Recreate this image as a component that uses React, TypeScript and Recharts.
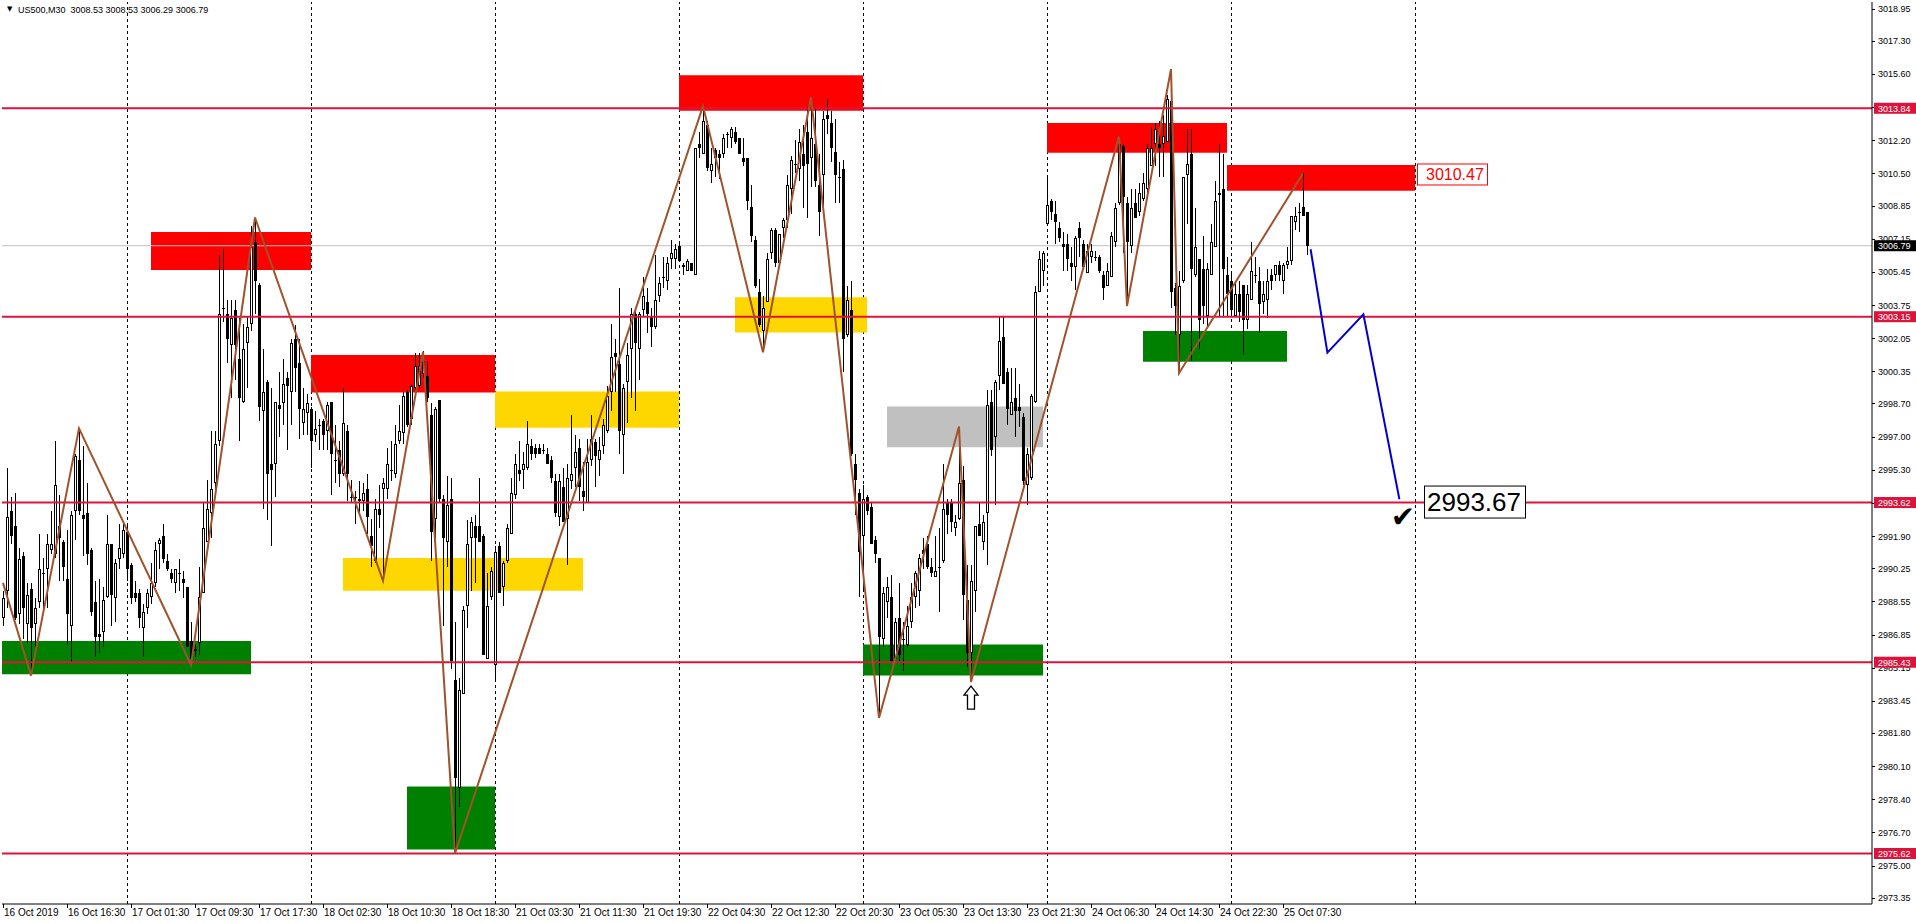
import { ComposedChart, Bar, Line, XAxis, YAxis, ReferenceLine, ReferenceArea, ReferenceDot } from 'recharts';

type Candle = [number, number, number, number]; // open, high, low, close

const oct16: Candle[] = [
  [2987.7, 2989.1, 2987.3, 2988.7], [2989.1, 2995.4, 2988.2, 2992.9], [2993.2, 2993.9, 2991.5, 2991.9],
  [2992.4, 2994.1, 2987.6, 2987.7], [2987.9, 2991.3, 2987.4, 2990.7], [2990.9, 2991.1, 2986.6, 2988.2],
  [2987.4, 2989.5, 2986.4, 2988.9], [2989.2, 2989.5, 2984.8, 2987.2], [2987.4, 2988.7, 2986.2, 2988.2],
  [2988.5, 2992.0, 2988.2, 2990.2], [2990.0, 2990.8, 2988.2, 2990.0], [2990.2, 2992.0, 2988.2, 2991.5],
  [2991.2, 2993.2, 2991.0, 2991.5], [2991.0, 2996.8, 2990.8, 2994.5], [2992.4, 2994.0, 2989.6, 2991.8],
  [2991.6, 2991.7, 2989.6, 2990.3], [2989.7, 2992.2, 2986.3, 2987.9], [2987.3, 2993.2, 2985.4, 2993.0],
  [2993.2, 2996.1, 2991.7, 2996.0], [2995.8, 2997.4, 2993.0, 2993.2], [2993.0, 2996.5, 2990.9, 2992.8],
  [2993.1, 2994.6, 2990.4, 2991.0], [2991.2, 2991.3, 2987.8, 2988.0], [2988.5, 2989.6, 2985.7, 2986.7],
  [2986.9, 2989.7, 2985.9, 2986.7], [2987.0, 2989.3, 2986.2, 2988.6], [2988.8, 2993.0, 2988.7, 2991.5],
  [2991.5, 2991.5, 2987.3, 2988.9], [2988.7, 2990.7, 2987.5, 2990.5], [2990.7, 2992.5, 2990.2, 2991.3],
  [2991.0, 2992.6, 2990.8, 2992.2],
];

const oct17: Candle[] = [
  [2992.1, 2992.4, 2989.6, 2990.2], [2990.4, 2990.5, 2988.4, 2988.7], [2989.0, 2989.6, 2988.5, 2988.7],
  [2989.0, 2989.2, 2987.2, 2987.7], [2987.2, 2988.4, 2985.7, 2988.0], [2988.2, 2989.2, 2987.9, 2989.0],
  [2988.8, 2990.5, 2988.4, 2989.5], [2989.5, 2991.6, 2989.3, 2991.2], [2991.5, 2991.8, 2990.2, 2991.7],
  [2991.9, 2992.5, 2990.5, 2990.7], [2990.6, 2991.0, 2990.1, 2990.2], [2990.0, 2990.2, 2989.5, 2989.7],
  [2989.5, 2990.2, 2989.0, 2990.2], [2990.0, 2990.7, 2989.1, 2990.0], [2989.7, 2990.1, 2988.7, 2989.5],
  [2989.3, 2989.3, 2986.2, 2986.2], [2986.5, 2987.5, 2985.3, 2985.6], [2986.0, 2986.3, 2985.7, 2986.1],
  [2986.4, 2990.3, 2985.8, 2988.8], [2989.0, 2993.6, 2989.0, 2992.3], [2991.6, 2994.8, 2991.6, 2993.3],
  [2993.1, 2997.3, 2991.8, 2994.3], [2994.6, 2997.3, 2994.1, 2996.6], [2996.8, 3006.3, 2996.5, 3003.3],
  [3003.6, 3006.6, 3002.9, 3003.6], [3003.3, 3004.0, 3000.8, 3002.0], [3001.7, 3004.0, 2999.0, 3003.1],
  [3003.5, 3004.0, 2999.9, 3001.7], [3001.0, 3003.1, 2996.8, 2999.0], [2998.8, 3002.8, 2998.7, 3001.5],
  [3001.8, 3003.2, 2999.5, 3002.6], [3002.8, 3007.8, 3002.4, 3006.7], [3007.0, 3008.2, 3003.3, 3005.0],
  [3004.8, 3004.9, 2997.8, 2998.5], [2998.3, 3001.5, 2993.3, 2999.3], [2999.8, 2999.9, 2992.7, 2995.1],
  [2995.6, 2999.5, 2991.4, 2995.3], [2995.6, 2998.8, 2993.9, 2998.8], [2998.6, 3000.3, 2997.0, 2998.4],
  [2998.7, 3001.0, 2997.6, 2999.7], [3000.0, 3000.3, 2996.3, 2999.6], [2999.3, 3002.0, 2997.6, 3001.8],
  [3002.0, 3002.7, 2999.3, 3000.5], [3000.8, 3002.0, 2996.9, 2998.4], [2997.7, 2999.5, 2997.1, 2998.4],
  [2998.2, 2999.2, 2997.1, 2998.7],
];

const oct18: Candle[] = [
  [2998.4, 2998.5, 2995.4, 2996.8], [2997.1, 2998.3, 2996.7, 2997.4], [2997.6, 2997.9, 2996.3, 2997.6],
  [2997.8, 2997.9, 2996.3, 2997.1], [2997.3, 2998.8, 2996.3, 2998.6], [2998.8, 2998.8, 2994.0, 2996.1],
  [2995.8, 2997.6, 2994.6, 2995.8], [2996.3, 2996.8, 2994.4, 2995.1], [2995.1, 2999.5, 2995.0, 2997.7],
  [2997.3, 2997.6, 2993.7, 2995.1], [2993.9, 2994.8, 2993.6, 2993.9], [2993.9, 2994.2, 2992.5, 2993.9],
  [2993.8, 2994.7, 2993.0, 2993.7], [2993.7, 2994.6, 2993.2, 2994.1], [2994.3, 2995.1, 2992.0, 2992.9],
  [2991.9, 2992.8, 2990.3, 2991.4], [2990.6, 2993.8, 2990.5, 2993.3], [2993.3, 2994.5, 2992.3, 2993.0],
  [2994.3, 2994.9, 2989.6, 2994.6], [2994.3, 2996.4, 2993.8, 2995.6], [2995.3, 2996.8, 2994.7, 2995.3],
  [2995.1, 2997.6, 2994.9, 2996.6], [2996.8, 2998.6, 2996.6, 2997.3], [2997.2, 2999.3, 2996.6, 2999.1],
  [2999.3, 2999.4, 2997.5, 2997.6], [2997.9, 2999.7, 2997.6, 2999.6], [2999.5, 3001.3, 2999.4, 3000.6],
  [2999.6, 3001.3, 2999.5, 3000.6], [3000.2, 3001.4, 3000.0, 3000.9], [3000.1, 3000.9, 2998.8, 2999.0],
  [2998.1, 2998.7, 2990.6, 2992.1], [2992.8, 2998.5, 2991.7, 2998.4], [2998.9, 2998.9, 2993.6, 2993.8],
  [2993.8, 2994.0, 2987.3, 2991.8], [2991.6, 2995.0, 2990.3, 2993.5], [2993.8, 2994.9, 2985.1, 2985.5],
  [2984.5, 2987.5, 2975.6, 2979.5], [2979.0, 2984.6, 2978.0, 2984.0], [2983.8, 2988.3, 2983.8, 2988.1],
  [2988.3, 2992.7, 2987.2, 2991.5], [2991.8, 2992.9, 2989.1, 2992.6], [2992.4, 2993.0, 2989.5, 2991.8],
  [2992.4, 2994.9, 2991.6, 2991.6], [2991.9, 2992.0, 2985.8, 2985.8], [2985.6, 2990.0, 2985.6, 2988.3],
  [2988.8, 2990.3, 2988.6, 2990.1],
];

const oct21: Candle[] = [
  [2985.3, 2991.4, 2984.4, 2991.1], [2991.4, 2991.6, 2989.0, 2989.0], [2989.3, 2990.6, 2988.3, 2990.5],
  [2990.6, 2992.5, 2990.5, 2992.3], [2992.0, 2994.9, 2992.0, 2994.1], [2994.0, 2996.1, 2993.8, 2995.6],
  [2995.3, 2996.8, 2994.7, 2995.1], [2995.3, 2996.2, 2994.3, 2995.6], [2995.4, 2997.8, 2995.3, 2996.6],
  [2996.5, 2996.9, 2995.8, 2996.1], [2996.4, 2996.6, 2995.9, 2996.1], [2996.4, 2996.6, 2996.1, 2996.1],
  [2996.3, 2996.6, 2996.1, 2996.3], [2996.1, 2996.4, 2995.6, 2995.6], [2995.8, 2996.0, 2994.6, 2994.9],
  [2994.7, 2995.1, 2992.9, 2993.1], [2992.9, 2995.1, 2992.4, 2994.7], [2994.4, 2995.4, 2992.6, 2992.6],
  [2992.8, 2995.6, 2990.4, 2994.9], [2994.7, 2998.1, 2994.3, 2995.1], [2995.4, 2997.1, 2994.4, 2996.2],
  [2996.4, 2996.9, 2993.7, 2994.4], [2994.2, 2995.7, 2993.2, 2993.9], [2993.6, 2996.9, 2993.6, 2995.7],
  [2995.8, 2998.1, 2995.5, 2996.9], [2996.7, 2996.9, 2994.4, 2996.0], [2995.8, 2997.0, 2995.0, 2996.3],
  [2996.5, 2997.9, 2996.1, 2997.6], [2997.3, 2999.6, 2997.2, 2999.1], [2999.3, 3002.8, 2998.3, 3001.1],
  [3001.3, 3002.0, 2999.3, 3001.1], [3000.7, 3004.6, 2996.1, 2997.3], [2997.1, 2999.7, 2995.1, 2999.5],
  [2999.8, 3001.8, 2997.7, 3001.2], [3001.5, 3003.6, 2999.0, 3003.3], [3003.3, 3003.6, 2998.3, 3001.8],
  [3001.5, 3003.4, 2999.9, 3003.3], [3003.5, 3005.2, 3003.2, 3004.2], [3003.9, 3004.6, 3002.3, 3003.3],
  [3003.2, 3003.6, 3001.6, 3002.6], [3002.6, 3006.3, 3002.5, 3004.0], [3004.2, 3005.2, 3003.9, 3004.9],
  [3005.2, 3006.2, 3004.6, 3005.2], [3005.0, 3006.2, 3004.5, 3005.9], [3006.1, 3007.1, 3005.6, 3006.4],
  [3006.1, 3006.9, 3005.6, 3006.6],
];

const oct22: Candle[] = [
  [3006.8, 3007.0, 3006.0, 3006.0], [3005.8, 3005.9, 3005.3, 3005.7], [3005.5, 3006.1, 3005.5, 3006.0],
  [3005.9, 3005.9, 3005.5, 3005.5], [3005.3, 3011.8, 3005.3, 3011.8], [3012.0, 3012.6, 3011.3, 3011.8],
  [3011.5, 3013.95, 3011.5, 3013.2], [3013.0, 3013.2, 3010.6, 3010.8], [3010.6, 3011.8, 3010.0, 3011.0],
  [3011.7, 3011.8, 3010.3, 3011.3], [3011.5, 3011.7, 3010.2, 3011.3], [3011.5, 3012.5, 3011.3, 3012.3],
  [3012.5, 3012.6, 3011.8, 3012.5], [3012.3, 3012.9, 3011.8, 3012.8], [3012.6, 3012.9, 3012.0, 3012.1],
  [3012.3, 3012.3, 3011.5, 3011.5], [3011.3, 3012.3, 3010.9, 3011.1], [3011.3, 3011.3, 3008.6, 3009.1],
  [3008.8, 3009.9, 3007.0, 3007.3], [3007.1, 3007.3, 3004.6, 3004.7], [3004.4, 3005.1, 3002.6, 3002.7],
  [3002.4, 3004.2, 3001.4, 3003.6], [3003.9, 3006.4, 3003.9, 3006.1], [3006.4, 3007.7, 3006.1, 3007.6],
  [3007.6, 3007.7, 3005.7, 3005.9], [3005.9, 3007.4, 3005.7, 3007.4], [3007.7, 3008.2, 3007.2, 3008.1],
  [3008.1, 3010.4, 3007.7, 3009.9], [3009.7, 3011.4, 3008.4, 3011.2], [3011.0, 3012.2, 3010.5, 3011.0],
  [3010.7, 3012.8, 3010.1, 3012.1], [3011.5, 3013.0, 3008.7, 3010.9], [3012.6, 3013.9, 3008.2, 3011.0],
  [3011.3, 3014.42, 3009.8, 3012.3], [3012.0, 3013.8, 3009.8, 3010.1], [3009.9, 3011.5, 3007.3, 3008.5],
  [3010.4, 3013.7, 3008.8, 3013.3], [3013.5, 3014.3, 3012.5, 3013.3], [3013.1, 3013.7, 3011.1, 3011.8],
  [3011.6, 3013.3, 3009.0, 3010.4], [3010.3, 3011.1, 3009.0, 3010.3], [3010.7, 3011.2, 3000.3, 3002.0],
  [3002.2, 3004.7, 3002.1, 3004.0], [3003.5, 3005.0, 2996.0, 2996.1], [2995.6, 2996.1, 2993.0, 2994.8],
  [2994.1, 2994.3, 2988.8, 2991.1],
];

const oct23: Candle[] = [
  [2991.9, 2994.5, 2989.1, 2993.8], [2993.9, 2994.0, 2993.0, 2993.2], [2993.4, 2993.6, 2991.5, 2991.5],
  [2991.7, 2991.9, 2990.5, 2991.0], [2990.8, 2990.8, 2982.6, 2986.7], [2986.6, 2989.3, 2986.2, 2989.0],
  [2988.5, 2989.8, 2987.7, 2989.3], [2988.8, 2989.9, 2985.4, 2985.5], [2985.6, 2987.7, 2985.5, 2987.5],
  [2987.7, 2989.5, 2985.5, 2985.8], [2986.6, 2987.5, 2985.0, 2986.6], [2986.3, 2988.3, 2986.2, 2987.3],
  [2987.5, 2989.5, 2987.2, 2988.8], [2988.8, 2990.1, 2988.2, 2990.0], [2989.1, 2991.0, 2988.3, 2990.8],
  [2991.2, 2991.8, 2990.2, 2991.0], [2991.5, 2991.9, 2990.2, 2990.3], [2990.3, 2990.8, 2989.8, 2990.0],
  [2989.8, 2991.9, 2989.8, 2990.1], [2990.3, 2992.3, 2988.0, 2990.3], [2990.6, 2995.6, 2990.5, 2993.3],
  [2993.6, 2993.8, 2992.0, 2993.0], [2993.6, 2993.8, 2992.1, 2992.6], [2992.3, 2993.0, 2991.9, 2992.6],
  [2992.8, 2997.5, 2992.7, 2994.6], [2994.8, 2995.5, 2987.6, 2988.9], [2988.6, 2990.4, 2985.2, 2985.9],
  [2985.9, 2990.4, 2984.4, 2989.6], [2989.1, 2992.4, 2988.0, 2992.4], [2992.5, 2993.6, 2991.9, 2991.9],
  [2991.6, 2993.0, 2991.2, 2992.6], [2993.1, 2999.4, 2990.4, 2998.6], [2998.8, 2999.4, 2996.0, 2996.3],
  [2997.0, 2999.9, 2993.5, 2999.8], [3000.1, 3003.2, 2999.4, 3001.9], [3002.1, 3003.2, 2999.7, 2999.7],
  [3000.3, 3000.5, 2997.6, 2998.4], [2998.1, 3000.5, 2998.1, 2998.8], [2999.0, 3000.5, 2997.0, 2998.3],
  [2998.5, 2999.7, 2997.5, 2998.3], [2998.0, 2998.2, 2994.5, 2994.7], [2994.5, 2996.4, 2993.5, 2996.1],
  [2994.9, 2999.2, 2994.8, 2999.1], [2998.8, 3004.7, 2998.7, 3004.4], [3004.4, 3006.5, 3004.4, 3006.1],
  [3005.5, 3006.5, 3004.7, 3006.4],
];

const oct24: Candle[] = [
  [3007.9, 3010.4, 3007.9, 3008.9], [3009.1, 3009.2, 3008.1, 3008.5], [3008.4, 3009.1, 3006.9, 3008.0],
  [3007.7, 3008.0, 3007.0, 3007.2], [3006.9, 3007.5, 3005.5, 3006.7], [3006.9, 3007.4, 3005.5, 3006.1],
  [3005.9, 3006.7, 3005.0, 3005.7], [3005.7, 3007.3, 3004.5, 3007.2], [3007.7, 3008.0, 3006.2, 3007.2],
  [3006.9, 3007.1, 3005.7, 3005.7], [3005.4, 3006.9, 3005.4, 3006.5], [3006.2, 3006.9, 3005.9, 3006.5],
  [3006.2, 3006.5, 3006.0, 3006.2], [3006.2, 3006.3, 3005.4, 3005.5], [3005.3, 3005.5, 3004.0, 3004.6],
  [3004.7, 3005.9, 3004.7, 3005.5], [3005.2, 3007.5, 3005.2, 3007.3], [3007.0, 3009.0, 3006.7, 3008.7],
  [3009.0, 3012.4, 3008.9, 3012.0], [3011.9, 3012.0, 3006.4, 3009.3], [3009.0, 3009.3, 3003.7, 3007.0],
  [3006.8, 3009.7, 3006.4, 3008.7], [3009.0, 3009.7, 3008.2, 3008.2], [3008.5, 3010.0, 3008.3, 3009.5],
  [3009.2, 3010.5, 3009.1, 3010.0], [3009.7, 3012.0, 3009.3, 3011.8], [3010.9, 3012.9, 3010.9, 3011.8],
  [3012.0, 3013.1, 3010.9, 3012.8], [3012.0, 3013.2, 3010.3, 3011.8], [3012.0, 3013.5, 3010.3, 3012.4],
  [3012.1, 3014.5, 3012.1, 3014.3], [3014.2, 3015.84, 3003.6, 3004.4], [3004.6, 3004.9, 3002.2, 3003.7],
  [3002.2, 3005.5, 3000.25, 3004.7], [3005.0, 3010.3, 3004.9, 3010.3], [3010.4, 3012.8, 3007.9, 3011.0],
  [3011.5, 3012.8, 3000.9, 3005.6], [3005.3, 3008.7, 3005.2, 3006.7], [3006.1, 3006.1, 3001.5, 3003.0],
  [3005.6, 3007.3, 3002.8, 3003.7], [3003.2, 3005.9, 3002.6, 3005.6], [3005.3, 3007.9, 3005.3, 3007.0],
  [3006.7, 3010.1, 3006.7, 3009.1], [3009.4, 3012.0, 3003.2, 3009.5], [3009.7, 3011.5, 3003.2, 3005.6],
  [3005.3, 3006.2, 3003.2, 3004.3],
];

const oct25: Candle[] = [
  [3005.0, 3005.5, 3003.2, 3003.5], [3003.2, 3005.0, 3003.2, 3004.3], [3004.3, 3005.0, 3002.9, 3003.4],
  [3004.8, 3004.8, 3001.2, 3003.0], [3003.0, 3004.8, 3002.5, 3004.3], [3004.0, 3007.0, 3004.0, 3005.5],
  [3005.3, 3006.2, 3004.9, 3005.3], [3005.0, 3005.7, 3002.3, 3003.8], [3003.9, 3005.0, 3003.3, 3004.3],
  [3004.0, 3005.6, 3003.1, 3005.0], [3005.3, 3005.6, 3004.5, 3005.0], [3005.3, 3005.8, 3005.0, 3005.8],
  [3005.8, 3006.0, 3005.0, 3005.3], [3005.0, 3005.9, 3004.3, 3005.8], [3005.8, 3006.7, 3005.6, 3006.0],
  [3006.0, 3008.3, 3005.8, 3008.3], [3008.0, 3008.8, 3007.6, 3008.3], [3008.5, 3009.0, 3007.5, 3008.5],
  [3008.8, 3010.5, 3008.3, 3008.3], [3008.53, 3008.53, 3006.29, 3006.79],
];

const sessions = [oct16, oct17, oct18, oct21, oct22, oct23, oct24, oct25];

const timeLabels = [
  '16 Oct 2019', '16 Oct 16:30', '17 Oct 01:30', '17 Oct 09:30', '17 Oct 17:30', '18 Oct 02:30',
  '18 Oct 10:30', '18 Oct 18:30', '21 Oct 03:30', '21 Oct 11:30', '21 Oct 19:30', '22 Oct 04:30',
  '22 Oct 12:30', '22 Oct 20:30', '23 Oct 05:30', '23 Oct 13:30', '23 Oct 21:30', '24 Oct 06:30',
  '24 Oct 14:30', '24 Oct 22:30', '25 Oct 07:30',
];
const BARS_PER_LABEL = 16;

const priceTicks = [
  3018.95, 3017.3, 3015.6, 3013.9, 3012.2, 3010.5, 3008.85, 3007.15, 3005.45, 3003.75, 3002.05,
  3000.35, 2998.7, 2997.0, 2995.3, 2993.6, 2991.9, 2990.25, 2988.55, 2986.85, 2985.15, 2983.45,
  2981.8, 2980.1, 2978.4, 2976.7, 2975.0, 2973.35,
];

const levels = [3013.84, 3003.15, 2993.62, 2985.43, 2975.62];
const bidPrice = 3006.79;
const dayBreaks = [31, 77, 123, 169, 215, 261, 307, 353];

// bar index, price
const zigzag: [number, number][] = [
  [0, 2989.5], [7, 2984.74], [19, 2997.42], [47, 2985.29], [63, 3008.24], [95, 2989.6],
  [105, 3001.35], [113, 2975.62], [175, 3013.95], [190, 3001.33], [202, 3014.42], [219, 2982.57],
  [239, 2997.52], [242, 2984.41], [279, 3012.4], [281, 3003.7], [292, 3015.84], [294, 3000.25],
  [325, 3010.5],
];
const projection: [number, number][] = [[326.9, 3006.61], [331.1, 3001.31], [340.1, 3003.27], [349.1, 2993.79]];

type Zone = { kind: 'supply' | 'demand' | 'pivot' | 'neutral'; from: number; to: number; low: number; high: number };
const zones: Zone[] = [
  { kind: 'demand', from: -0.25, to: 62, low: 2984.81, high: 2986.52 },
  { kind: 'supply', from: 37, to: 77, low: 3005.54, high: 3007.49 },
  { kind: 'supply', from: 77, to: 123, low: 2999.26, high: 3001.18 },
  { kind: 'pivot', from: 85, to: 145, low: 2989.1, high: 2990.78 },
  { kind: 'demand', from: 101, to: 123, low: 2975.83, high: 2979.05 },
  { kind: 'pivot', from: 123, to: 169, low: 2997.45, high: 2999.32 },
  { kind: 'supply', from: 169, to: 215, low: 3013.71, high: 3015.53 },
  { kind: 'pivot', from: 183, to: 216, low: 3002.34, high: 3004.15 },
  { kind: 'neutral', from: 221, to: 260, low: 2996.45, high: 2998.55 },
  { kind: 'demand', from: 215, to: 260, low: 2984.75, high: 2986.34 },
  { kind: 'supply', from: 261, to: 306, low: 3011.56, high: 3013.09 },
  { kind: 'demand', from: 285, to: 321, low: 3000.84, high: 3002.42 },
  { kind: 'supply', from: 306, to: 353, low: 3009.61, high: 3010.93 },
];

const target = { bar: 355.25, price: 2993.67 };
const resistanceTag = { bar: 353.5, price: 3010.47 };
const checkMark = { bar: 350, price: 2993.0 };
const arrowUp = { bar: 242, price: 2984.41 };

const ZONE_COLORS = { supply: '#FF0000', demand: '#008000', pivot: '#FFD700', neutral: '#C0C0C0' };
const X_DOMAIN: [number, number] = [-0.25, 467.25];
const Y_DOMAIN: [number, number] = [2973.03, 3019.29];
const FONT = '"Liberation Sans", Arial, sans-serif';
const LEVEL_RED = '#DC143C';

const candleData = sessions.flat().map(([open, high, low, close], bar) => ({
  bar,
  open,
  high,
  low,
  close,
  range: [low, high],
}));
const zigzagData = zigzag.map(([bar, price]) => ({ bar, price }));
const projectionData = projection.map(([bar, price]) => ({ bar, price }));

const CandleShape = (props: any) => {
  const { x, y, width, height, payload } = props;
  if (!payload) return null;
  const { open, high, low, close } = payload;
  const top = Math.min(y, y + height);
  const h = Math.abs(height);
  const k = h / (high - low);
  const cx = Math.round(x + width / 2);
  const yOf = (v: number) => top + (high - v) * k;
  const yHigh = Math.round(top);
  const yLow = Math.max(yHigh + 1, Math.round(top + h));
  const bTop = Math.round(yOf(Math.max(open, close)));
  const bBot = Math.round(yOf(Math.min(open, close)));
  const up = close > open;
  return (
    <g shapeRendering="crispEdges">
      <rect x={cx} y={yHigh} width={1} height={yLow - yHigh} fill="#000" />
      {up && bBot - bTop >= 2 ? (
        <rect x={cx - 0.5} y={bTop + 0.5} width={2} height={bBot - bTop - 1} fill="#fff" stroke="#000" strokeWidth={1} />
      ) : (
        <rect x={cx - 1} y={bTop} width={3} height={Math.max(bBot - bTop, 1)} fill="#000" />
      )}
    </g>
  );
};

const TimeTick = ({ x, y, payload }: any) => {
  const label = timeLabels[Math.round(payload.value / BARS_PER_LABEL)];
  return (
    <g>
      <line x1={x + 0.5} x2={x + 0.5} y1={y} y2={y + 4} stroke="#000" shapeRendering="crispEdges" />
      <text x={x + 1} y={y + 12} fontSize={10} fontFamily={FONT} fill="#000">
        {label}
      </text>
    </g>
  );
};

const PriceTick = ({ x, y, payload }: any) => (
  <g>
    <line x1={x} x2={x + 3} y1={Math.round(y) + 0.5} y2={Math.round(y) + 0.5} stroke="#000" />
    <text x={x + 6} y={y + 3.5} fontSize={9} fontFamily={FONT} fill="#000">
      {payload.value.toFixed(2)}
    </text>
  </g>
);

const PriceTag = ({ cx, cy, text, fill }: any) => (
  <g>
    <rect x={cx + 2} y={cy - 5.5} width={42} height={11} fill={fill} />
    <text x={cx + 6} y={cy + 3.5} fontSize={9} fontFamily={FONT} fill="#fff">
      {text}
    </text>
  </g>
);

export default function App() {
  return (
    <div style={{ position: 'absolute', left: 0, top: 0, width: 1916, height: 923, background: '#fff' }}>
      <ComposedChart width={1916} height={923} data={candleData} margin={{ top: 2, right: 0, bottom: 0, left: 2 }}>
        <XAxis
          dataKey="bar"
          type="number"
          domain={X_DOMAIN}
          allowDataOverflow
          ticks={timeLabels.map((_, i) => i * BARS_PER_LABEL)}
          interval={0}
          tick={<TimeTick />}
          tickLine={false}
          tickSize={0}
          tickMargin={0}
          axisLine={{ stroke: '#000' }}
          height={19}
        />
        <XAxis xAxisId="frame" orientation="top" type="number" domain={X_DOMAIN} allowDataOverflow height={0} tick={false} tickLine={false} axisLine={{ stroke: '#000' }} />
        <YAxis yAxisId="frame" orientation="left" type="number" domain={Y_DOMAIN} allowDataOverflow width={0} tick={false} tickLine={false} axisLine={{ stroke: '#000' }} />
        <YAxis
          orientation="right"
          type="number"
          domain={Y_DOMAIN}
          allowDataOverflow
          ticks={priceTicks}
          interval={0}
          tick={<PriceTick />}
          tickLine={false}
          tickSize={0}
          tickMargin={0}
          axisLine={{ stroke: '#000' }}
          width={44}
        />

        {dayBreaks.map((b) => (
          <ReferenceLine key={`d${b}`} x={b} stroke="#000" strokeDasharray="3 3" strokeWidth={1} shapeRendering="crispEdges" zIndex={-10} />
        ))}

        {zones.map((z, i) => (
          <ReferenceArea
            key={`z${i}`}
            x1={z.from}
            x2={z.to}
            y1={z.low}
            y2={z.high}
            fill={ZONE_COLORS[z.kind]}
            fillOpacity={1}
            stroke="none"
            ifOverflow="visible"
            zIndex={100}
          />
        ))}

        <ReferenceLine y={bidPrice} stroke="#C0C0C0" strokeWidth={1} zIndex={150} />

        <Bar dataKey="range" barSize={3} isAnimationActive={false} shape={(p: any) => <CandleShape {...p} />} zIndex={300} />

        {levels.map((v) => (
          <ReferenceLine key={`l${v}`} y={v} stroke={LEVEL_RED} strokeWidth={2} zIndex={350} />
        ))}

        <Line
          data={zigzagData}
          dataKey="price"
          stroke="#A0522D"
          strokeWidth={2}
          dot={false}
          activeDot={false}
          isAnimationActive={false}
          zIndex={400}
        />
        <Line
          data={projectionData}
          dataKey="price"
          stroke="#0000CD"
          strokeWidth={2}
          dot={false}
          activeDot={false}
          isAnimationActive={false}
          zIndex={410}
        />

        <ReferenceDot
          x={arrowUp.bar}
          y={arrowUp.price}
          r={1}
          ifOverflow="visible"
          zIndex={600}
          shape={({ cx, cy }: any) => (
            <path
              d={`M${cx},${cy + 4} L${cx + 7},${cy + 13} L${cx + 3.5},${cy + 13} L${cx + 3.5},${cy + 27} L${cx - 3.5},${cy + 27} L${cx - 3.5},${cy + 13} L${cx - 7},${cy + 13} Z`}
              fill="#fff"
              stroke="#000"
              strokeWidth={1.3}
            />
          )}
        />
        <ReferenceDot
          x={checkMark.bar}
          y={checkMark.price}
          r={1}
          ifOverflow="visible"
          zIndex={600}
          shape={({ cx, cy }: any) => (
            <text x={cx} y={cy + 12} textAnchor="middle" fontSize={29} fontFamily="DejaVu Sans" fill="#000">
              ✔
            </text>
          )}
        />
        <ReferenceDot
          x={resistanceTag.bar}
          y={resistanceTag.price}
          r={1}
          ifOverflow="visible"
          zIndex={600}
          shape={({ cx, cy }: any) => (
            <g>
              <rect x={cx + 0.5} y={cy - 10} width={70} height={21} fill="#fff" stroke="#FF0000" strokeWidth={1} />
              <text x={cx + 9} y={cy + 6} fontSize={16} fontFamily={FONT} fill="#FF0000">
                {resistanceTag.price.toFixed(2)}
              </text>
            </g>
          )}
        />
        <ReferenceDot
          x={target.bar}
          y={target.price}
          r={1}
          ifOverflow="visible"
          zIndex={600}
          shape={({ cx, cy }: any) => (
            <g>
              <rect x={cx + 0.5} y={cy - 15.5} width={101} height={32} fill="#fff" stroke="#000" strokeWidth={1} />
              <text x={cx + 3} y={cy + 9.5} fontSize={26} fontFamily={FONT} fill="#000">
                {target.price.toFixed(2)}
              </text>
            </g>
          )}
        />

        {levels.map((v) => (
          <ReferenceDot
            key={`t${v}`}
            x={X_DOMAIN[1]}
            y={v}
            r={1}
            ifOverflow="visible"
            zIndex={2100}
            shape={({ cx, cy }: any) => <PriceTag cx={cx} cy={cy} text={v.toFixed(2)} fill={LEVEL_RED} />}
          />
        ))}
        <ReferenceDot
          x={X_DOMAIN[1]}
          y={bidPrice}
          r={1}
          ifOverflow="visible"
          zIndex={2100}
          shape={({ cx, cy }: any) => <PriceTag cx={cx} cy={cy} text={bidPrice.toFixed(2)} fill="#000" />}
        />
      </ComposedChart>
      <div
        style={{
          position: 'absolute',
          left: 7,
          top: 5,
          fontSize: 7,
          lineHeight: '9px',
          fontFamily: 'DejaVu Sans',
          color: '#000',
        }}
      >
        ▼
      </div>
      <div
        style={{
          position: 'absolute',
          left: 18,
          top: 5,
          fontSize: 9,
          lineHeight: '11px',
          fontFamily: FONT,
          color: '#000',
          whiteSpace: 'pre',
        }}
      >
        {'US500,M30  3008.53 3008.53 3006.29 3006.79'}
      </div>
    </div>
  );
}
